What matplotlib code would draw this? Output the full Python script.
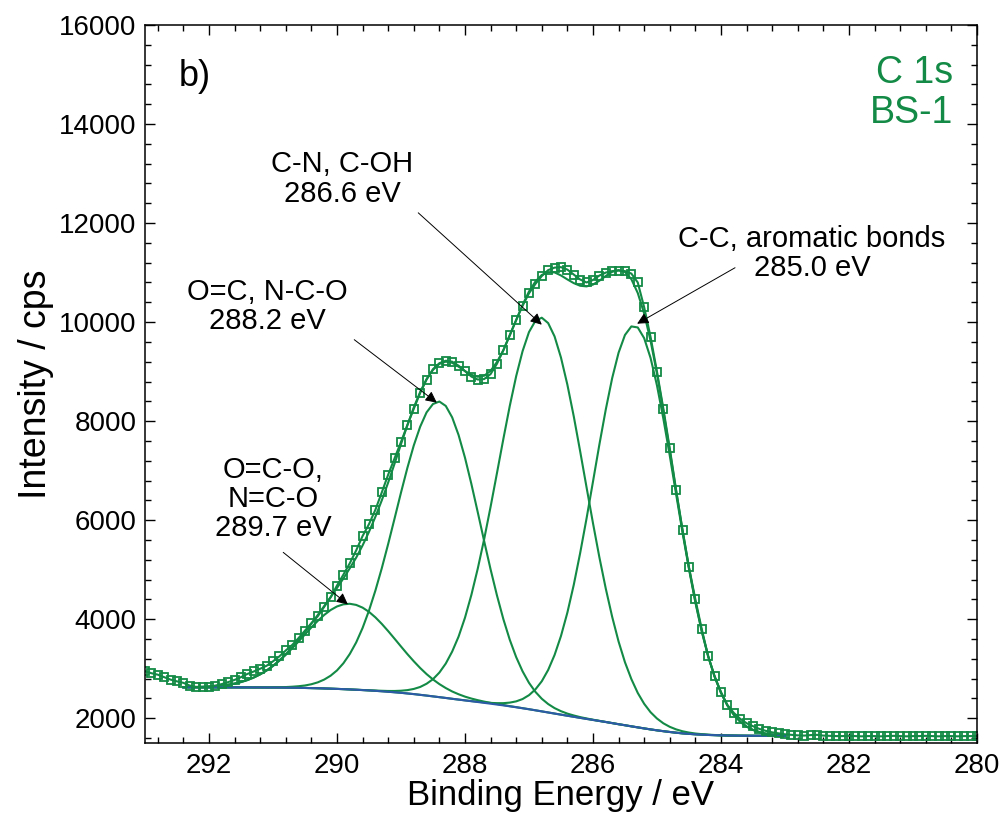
import numpy as np
import matplotlib
matplotlib.use('Agg')
from matplotlib import pyplot as plt
from matplotlib.ticker import MultipleLocator

plt.rcParams['font.family'] = ['Liberation Sans', 'DejaVu Sans']

# measured C 1s spectrum, 0.1 eV steps from 293.0 down to 280.0 eV
energy = np.round(np.arange(293.0, 279.95, -0.1), 1)
counts = [2950, 2910, 2880, 2830, 2780, 2745, 2715, 2660, 2630, 2625,
          2635, 2660, 2690, 2730, 2775, 2830, 2895, 2945, 3000, 3060,
          3150, 3250, 3370, 3480, 3620, 3770, 3920, 4060, 4250, 4440,
          4680, 4900, 5130, 5390, 5680, 5920, 6210, 6560, 6920, 7250,
          7580, 7920, 8250, 8570, 8840, 9050, 9170, 9220, 9200, 9120,
          9010, 8900, 8840, 8850, 8950, 9160, 9430, 9740, 10040, 10330,
          10580, 10770, 10930, 11050, 11100, 11110, 11060, 10960, 10860, 10800,
          10850, 10940, 11000, 11030, 11040, 11030, 10980, 10800, 10300, 9700,
          9000, 8250, 7450, 6600, 5800, 5050, 4400, 3800, 3250, 2850,
          2530, 2270, 2110, 1990, 1900, 1840, 1785, 1745, 1715, 1695,
          1676, 1665, 1655, 1650, 1660, 1665, 1650, 1645, 1640, 1640,
          1645, 1640, 1635, 1640, 1640, 1635, 1640, 1645, 1640, 1635,
          1640, 1640, 1645, 1640, 1635, 1640, 1640, 1635, 1640, 1640,
          1640]

# fit: 0.1 eV grid from 292.4 to 283.0 eV
energy_fit = np.round(np.arange(292.4, 282.95, -0.1), 1)
background = [2625, 2625, 2625, 2625, 2625, 2624, 2624, 2624, 2624, 2623,
              2623, 2622, 2622, 2621, 2621, 2620, 2618, 2617, 2615, 2612,
              2609, 2606, 2602, 2598, 2593, 2588, 2582, 2576, 2569, 2562,
              2554, 2545, 2535, 2525, 2514, 2501, 2488, 2473, 2458, 2442,
              2426, 2410, 2393, 2377, 2360, 2344, 2328, 2311, 2294, 2277,
              2260, 2241, 2222, 2202, 2182, 2161, 2139, 2117, 2095, 2073,
              2051, 2030, 2008, 1987, 1966, 1945, 1924, 1902, 1880, 1859,
              1837, 1816, 1795, 1775, 1756, 1739, 1723, 1708, 1695, 1685,
              1676, 1669, 1663, 1659, 1655, 1652, 1650, 1648, 1647, 1646,
              1646, 1645, 1645, 1645, 1645]
# peak heights above the background
peak_ococ = [3, 4, 7, 11, 17, 25, 37, 54, 77, 108,
             148, 200, 264, 342, 434, 542, 663, 795, 936, 1081,
             1225, 1361, 1484, 1587, 1665, 1713, 1730, 1713, 1665, 1587,
             1484, 1361, 1225, 1081, 936, 795, 663, 542, 434, 342,
             264, 200, 148, 108, 77, 54, 37, 25, 17, 11,
             7, 4, 3, 2, 1, 0, 0, 0, 0, 0] + [0] * 35
peak_oc = [0] * 10 + [0, 1, 1, 2, 4, 7, 12, 20, 32, 50,
                      78, 119, 179, 261, 373, 522, 716, 955, 1254, 1612,
                      2024, 2484, 2985, 3510, 4042, 4555, 5021, 5415, 5719, 5904,
                      5970, 5897, 5683, 5343, 4903, 4388, 3831, 3265, 2714, 2203,
                      1741, 1344, 1013, 746, 534, 373, 255, 170, 110, 70,
                      43, 26, 15, 9, 5, 3, 2, 1, 0, 0] + [0] * 25
peak_cn = [0] * 20 + [0, 0, 0, 0, 0, 0, 0, 0, 2, 3,
                      6, 10, 16, 26, 42, 67, 104, 159, 239, 347,
                      497, 695, 954, 1272, 1670, 2147, 2695, 3307, 3975, 4675,
                      5382, 6066, 6686, 7211, 7616, 7863, 7950, 7863, 7616, 7211,
                      6686, 6066, 5382, 4675, 3975, 3307, 2695, 2147, 1670, 1272,
                      954, 695, 497, 347, 239, 159, 104, 67, 42, 26,
                      16, 10, 6, 3, 2, 0, 0, 0, 0, 0] + [0] * 5
peak_cc = [0] * 40 + [0, 0, 0, 0, 2, 3, 5, 9, 16, 28,
                      45, 75, 119, 186, 284, 421, 608, 859, 1183, 1588,
                      2082, 2665, 3329, 4050, 4811, 5581, 6310, 6966, 7501, 7881,
                      8076, 8076, 7881, 7501, 6966, 6310, 5581, 4811, 4050, 3329,
                      2665, 2082, 1588, 1183, 859, 608, 421, 284, 186, 119,
                      75, 45, 28, 16, 9]

# annotation labels: (text, text position, arrow start, arrow tip)
labels = [
    ('O=C-O,\nN=C-O\n289.7 eV', (291.0, 6420), (290.84, 5350), (289.83, 4300)),
    ('O=C, N-C-O\n288.2 eV', (291.09, 10320), (289.73, 9645), (288.44, 8374)),
    ('C-N, C-OH\n286.6 eV', (289.92, 12890), (288.73, 12207), (286.8, 9948)),
    ('C-C, aromatic bonds\n285.0 eV', (282.58, 11380), (283.78, 11098), (285.31, 9968)),
]

green = '#138a45'
blue = '#2d5aa6'

fig = plt.figure(figsize=(10.02, 8.14), dpi=100)
ax = fig.add_axes([0.1447, 0.0872, 0.8303, 0.8821])

bg = np.array(background)
peaks = [np.array(p) for p in (peak_ococ, peak_oc, peak_cn, peak_cc)]
for p in peaks:
    ax.plot(energy_fit, bg + p, color=green, lw=1.5)
ax.plot(energy_fit, bg + sum(peaks), color=green, lw=1.5)
ax.plot(energy_fit, bg, color=blue, lw=1.5)
ax.plot(energy, counts, color=green, lw=1.5, marker='s', ms=5.5,
        mfc='none', mec=green, mew=1.3)

for text, pos, start, tip in labels:
    ax.text(pos[0], pos[1], text, fontsize=21, ha='center', va='center',
            multialignment='center', linespacing=1.05)
    ax.annotate('', xy=tip, xytext=start,
                arrowprops=dict(arrowstyle='-|>', color='black', lw=0.7,
                                mutation_scale=17, shrinkA=0, shrinkB=0))

ax.text(292.48, 14950, 'b)', fontsize=26, ha='left', va='center')
ax.text(280.375, 14830, 'C 1s', fontsize=27, color=green, ha='right', va='baseline')
ax.text(280.375, 14023, 'BS-1', fontsize=27, color=green, ha='right', va='baseline')

ax.set_xlim(293, 280)
ax.set_ylim(1500, 16000)
ax.xaxis.set_major_locator(MultipleLocator(2))
ax.xaxis.set_minor_locator(MultipleLocator(0.4))
ax.yaxis.set_major_locator(MultipleLocator(2000))
ax.yaxis.set_minor_locator(MultipleLocator(400))
ax.tick_params(which='both', direction='in', top=True, right=True, labelsize=20, width=1)
ax.tick_params(which='major', length=7)
ax.tick_params(which='minor', length=4)
ax.tick_params(axis='x', pad=7)
ax.tick_params(axis='y', pad=6)
for s in ax.spines.values():
    s.set_linewidth(1.1)

ax.set_xlabel('Binding Energy / eV', fontsize=25, labelpad=0)
ax.set_ylabel('Intensity / cps', fontsize=27, labelpad=4)

plt.savefig('out.png', dpi=100)
